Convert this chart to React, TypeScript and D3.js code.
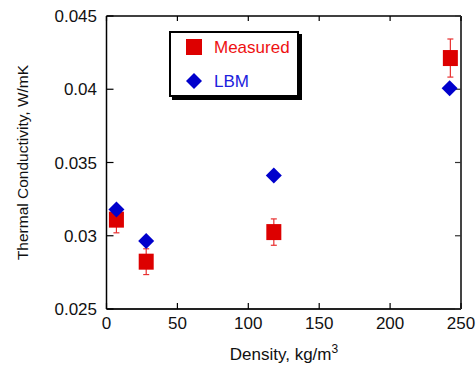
import React from "react";
import * as d3 from "d3";

const density = [7, 28, 118, 242.5];
const measured = [0.0311, 0.02823, 0.03025, 0.04213];
const measuredErr = [0.0009, 0.00088, 0.0009, 0.0013];
const lbmDensity = [7, 28, 118, 242];
const lbm = [0.0318, 0.02965, 0.03412, 0.04006];
const xTicks = [0, 50, 100, 150, 200, 250];
const yTicks = [0.025, 0.03, 0.035, 0.04, 0.045];

const W = 476, H = 367;
const L = 106.5, R = 461, T = 16, B = 309;

export default function App() {
  const x = d3.scaleLinear().domain([0, 250]).range([L, R]);
  const y = d3.scaleLinear().domain([0.025, 0.045]).range([B, T]);
  const red = "#dd0000";
  const blue = "#0000cc";
  const font = "Arial, 'Liberation Sans', sans-serif";
  const sq = 15;
  const dm = 8;
  const diamond = (cx: number, cy: number) =>
    `M${cx},${cy - dm}L${cx + dm},${cy}L${cx},${cy + dm}L${cx - dm},${cy}Z`;
  return (
    <svg width={W} height={H} style={{ position: "absolute", left: 0, top: 0 }}>
      <rect width={W} height={H} fill="white" />
      {/* frame */}
      <line x1={L} y1={T} x2={R} y2={T} stroke="#000" strokeWidth={1.5} />
      <line x1={L} y1={T} x2={L} y2={B} stroke="#000" strokeWidth={1.5} />
      <line x1={L} y1={B} x2={R} y2={B} stroke="#222" strokeWidth={2} />
      <line x1={R} y1={T} x2={R} y2={B} stroke="#444" strokeWidth={2} />
      {/* x ticks */}
      {xTicks.map((t) => (
        <g key={"x" + t}>
          <line x1={x(t)} x2={x(t)} y1={B} y2={B - 6} stroke="#000" strokeWidth={1.2} />
          <line x1={x(t)} x2={x(t)} y1={T} y2={T + 5} stroke="#000" strokeWidth={1.2} />
          <text x={x(t)} y={B + 20} fontSize={17} fontFamily={font} textAnchor="middle" fill="#111">
            {t}
          </text>
        </g>
      ))}
      {/* y ticks */}
      {yTicks.map((t) => (
        <g key={"y" + t}>
          <line x1={L} x2={L + 7} y1={y(t)} y2={y(t)} stroke="#000" strokeWidth={1.2} />
          <line x1={R} x2={R - 6} y1={y(t)} y2={y(t)} stroke="#333" strokeWidth={1.2} />
          <text x={97} y={y(t) + 6} fontSize={17} fontFamily={font} textAnchor="end" fill="#111">
            {d3.format("")(t)}
          </text>
        </g>
      ))}
      {/* axis labels */}
      <text
        transform={`translate(28,${(T + B) / 2}) rotate(-90)`}
        fontSize={15.5}
        fontFamily={font}
        textAnchor="middle"
        fill="#111"
      >
        Thermal Conductivity, W/mK
      </text>
      <text x={284} y={360} fontSize={17} fontFamily={font} textAnchor="middle" fill="#111">
        Density, kg/m<tspan dy={-7} fontSize={12}>3</tspan>
      </text>
      {/* error bars */}
      {density.map((d, i) => (
        <g key={"e" + i} stroke="#e83030" strokeWidth={1.2}>
          <line x1={x(d)} x2={x(d)} y1={y(measured[i] + measuredErr[i])} y2={y(measured[i] - measuredErr[i])} />
          <line x1={x(d) - 3} x2={x(d) + 3} y1={y(measured[i] + measuredErr[i])} y2={y(measured[i] + measuredErr[i])} />
          <line x1={x(d) - 3} x2={x(d) + 3} y1={y(measured[i] - measuredErr[i])} y2={y(measured[i] - measuredErr[i])} />
        </g>
      ))}
      {/* measured squares */}
      {density.map((d, i) => (
        <rect key={"m" + i} x={x(d) - sq / 2} y={y(measured[i]) - 8} width={sq} height={16} fill={red} />
      ))}
      {/* LBM diamonds */}
      {lbmDensity.map((d, i) => (
        <path key={"l" + i} d={diamond(x(d), y(lbm[i]))} fill={blue} />
      ))}
      {/* legend */}
      <rect x={172} y={34} width={130} height={66} fill="#000" />
      <rect x={170} y={32} width={128} height={64} fill="white" stroke="#000" strokeWidth={2} />
      <rect x={186} y={39} width={16} height={16} fill={red} />
      <text x={214} y={53} fontSize={17} fontFamily={font} fill="#ee1111">
        Measured
      </text>
      <path d={diamond(194, 81)} fill={blue} />
      <text x={214} y={87} fontSize={17} fontFamily={font} fill="#2020dd">
        LBM
      </text>
    </svg>
  );
}
